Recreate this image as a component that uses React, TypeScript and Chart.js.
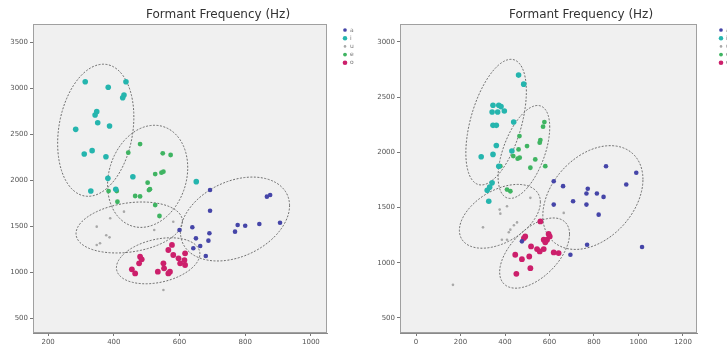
import React, { useEffect, useRef } from "react";
import { Chart, registerables } from "chart.js";

Chart.register(...registerables);

const TITLE = "Formant Frequency (Hz)";
const VOWELS = ["a", "i", "u", "e", "o"];
const COLORS = ["#4545a8", "#25b5ae", "#a8a8a8", "#3fb462", "#cc1f6b"];
const RADII = [2.3, 2.8, 1.3, 2.4, 2.9];

// ---- Left panel data (F1 on x, F2 on y) ----
const L_A: number[][] = [[693,1891],[693,1666],[639,1486],[600,1457],[691,1421],[688,1341],[650,1366],[663,1283],[642,1258],[680,1174],[769,1439],[777,1511],[800,1503],[843,1522],[866,1819],[876,1837],[906,1536]];
const L_I: number[][] = [[313,3069],[383,3008],[437,3069],[431,2924],[427,2895],[348,2743],[343,2707],[351,2623],[387,2587],[284,2551],[310,2283],[334,2319],[376,2253],[382,2018],[330,1880],[458,2036],[406,1899],[651,1982]];
const L_U: number[][] = [[431,1656],[389,1584],[348,1493],[377,1399],[387,1377],[348,1294],[358,1312],[523,1457],[581,1547],[551,804]];
const L_E: number[][] = [[480,2391],[444,2297],[549,2290],[573,2272],[526,2065],[551,2091],[545,2080],[503,1971],[507,1891],[510,1900],[465,1826],[480,1822],[384,1880],[409,1880],[411,1764],[526,1728],[539,1609]];
const L_O: number[][] = [[577,1294],[566,1239],[581,1185],[597,1149],[602,1094],[617,1203],[615,1130],[617,1076],[480,1167],[485,1138],[477,1094],[455,1029],[465,985],[534,1004],[551,1094],[553,1040],[571,1004],[566,985]];

// ---- Right panel data ----
const R_A: number[][] = [[619,1739],[661,1694],[619,1527],[706,1557],[772,1670],[766,1627],[766,1527],[813,1627],[843,1597],[821,1436],[854,1875],[945,1709],[990,1815],[769,1164],[694,1073],[1016,1143],[476,1194]];
const R_I: number[][] = [[461,2700],[484,2618],[346,2427],[372,2427],[382,2415],[342,2366],[367,2366],[397,2375],[346,2245],[361,2245],[439,2275],[361,2063],[293,1961],[346,1982],[372,1875],[431,2012],[342,1724],[331,1685],[320,1657],[327,1557]];
const R_U: number[][] = [[376,1482],[379,1445],[409,1512],[301,1321],[424,1300],[417,1276],[409,1209],[386,1209],[166,800],[664,1452],[454,1366],[440,1340],[514,1588]];
const R_E: number[][] = [[577,2275],[571,2233],[559,2112],[556,2088],[499,2057],[461,2027],[466,1952],[457,1943],[536,1936],[514,1861],[581,1875],[437,1967],[465,2148],[409,1663],[424,1648],[379,1875]];
const R_O: number[][] = [[559,1375],[491,1239],[485,1224],[596,1261],[601,1239],[589,1209],[574,1209],[581,1185],[574,1124],[517,1148],[544,1124],[556,1103],[619,1094],[641,1088],[446,1073],[476,1033],[509,1057],[514,951],[451,900]];

// Ellipses: centre (cx, cy), half extents (sx, sy) and correlation r, in data units, order a,i,u,e,o
const L_ELLIPSES = [
  { cx: 769, cy: 1576, sx: 166, sy: 456, r: 0.32 },
  { cx: 345, cy: 2541, sx: 116, sy: 718, r: 0.2 },
  { cx: 447, cy: 1484, sx: 162, sy: 277, r: 0.24 },
  { cx: 503, cy: 2040, sx: 122, sy: 555, r: 0.17 },
  { cx: 535, cy: 1122, sx: 127, sy: 250, r: 0.3 },
];
const R_ELLIPSES = [
  { cx: 795, cy: 1591, sx: 225, sy: 470, r: 0.35 },
  { cx: 360, cy: 2274, sx: 136, sy: 569, r: 0.49 },
  { cx: 377, cy: 1421, sx: 182, sy: 289, r: 0.44 },
  { cx: 485, cy: 2004, sx: 116, sy: 421, r: 0.53 },
  { cx: 533, cy: 1088, sx: 157, sy: 318, r: 0.54 },
];

const L_X_TICKS = [200, 400, 600, 800, 1000];
const L_Y_TICKS = [500, 1000, 1500, 2000, 2500, 3000, 3500];
const R_X_TICKS = [0, 200, 400, 600, 800, 1000, 1200];
const R_Y_TICKS = [500, 1000, 1500, 2000, 2500, 3000];

type Ell = { cx: number; cy: number; sx: number; sy: number; r: number };

function Panel(props: {
  series: number[][][];
  ellipses: Ell[];
  xRange: number[];
  yRange: number[];
  xTicks: number[];
  yTicks: number[];
  width: number;
  padRight: number;
  titleX: number;
  legendX: number;
}) {
  const ref = useRef<HTMLCanvasElement | null>(null);
  useEffect(() => {
    const canvas = ref.current;
    if (!canvas) return;
    const { series, ellipses, xRange, yRange, xTicks, yTicks, padRight, titleX, legendX } = props;
    const plugin = {
      id: "panelDecor",
      beforeDraw(chart: any) {
        const { ctx, chartArea: a } = chart;
        ctx.save();
        ctx.fillStyle = "#ffffff";
        ctx.fillRect(0, 0, chart.width, chart.height);
        ctx.fillStyle = "#f0f0f0";
        ctx.fillRect(a.left, a.top, a.right - a.left, a.bottom - a.top);
        ctx.restore();
      },
      beforeDatasetsDraw(chart: any) {
        const { ctx, chartArea: a, scales } = chart;
        ctx.save();
        ctx.beginPath();
        ctx.rect(a.left, a.top, a.right - a.left, a.bottom - a.top);
        ctx.clip();
        ctx.strokeStyle = "#6e6e6e";
        ctx.lineWidth = 1;
        ctx.setLineDash([2, 1.5]);
        for (const e of ellipses) {
          const k = Math.sqrt(1 - e.r * e.r);
          ctx.beginPath();
          for (let i = 0; i <= 180; i++) {
            const t = (i / 180) * Math.PI * 2;
            const xv = e.cx + e.sx * Math.cos(t);
            const yv = e.cy + e.sy * (e.r * Math.cos(t) + k * Math.sin(t));
            const px = scales.x.getPixelForValue(xv);
            const py = scales.y.getPixelForValue(yv);
            if (i === 0) ctx.moveTo(px, py);
            else ctx.lineTo(px, py);
          }
          ctx.closePath();
          ctx.stroke();
        }
        ctx.restore();
      },
      afterDraw(chart: any) {
        const { ctx, chartArea: a } = chart;
        ctx.save();
        ctx.strokeStyle = "#a0a0a0";
        ctx.lineWidth = 1;
        ctx.strokeRect(a.left + 0.5, a.top + 0.5, a.right - a.left - 1, a.bottom - a.top - 1);
        ctx.fillStyle = "#333333";
        ctx.font = "12px 'DejaVu Sans'";
        ctx.textAlign = "center";
        ctx.textBaseline = "middle";
        ctx.fillText(TITLE, titleX, 15);
        for (let i = 0; i < VOWELS.length; i++) {
          const y = 30 + i * 8.2;
          ctx.beginPath();
          ctx.fillStyle = COLORS[i];
          ctx.arc(legendX, y, Math.max(RADII[i] * 0.8, 1.3), 0, Math.PI * 2);
          ctx.fill();
          ctx.fillStyle = "#777777";
          ctx.font = "6px 'DejaVu Sans'";
          ctx.textAlign = "left";
          ctx.fillText(VOWELS[i], legendX + 5, y);
        }
        ctx.restore();
      },
    };
    const tickFont = { size: 7, family: "'DejaVu Sans'" };
    const chart = new Chart(canvas, {
      type: "scatter",
      data: {
        datasets: series.map((pts, i) => ({
          label: VOWELS[i],
          data: pts.map((p) => ({ x: p[0], y: p[1] })),
          backgroundColor: COLORS[i],
          borderColor: COLORS[i],
          borderWidth: 0,
          pointRadius: RADII[i],
          pointHoverRadius: RADII[i],
        })),
      },
      options: {
        animation: false,
        responsive: false,
        maintainAspectRatio: false,
        events: [],
        layout: { padding: { left: 0, top: 24, right: padRight, bottom: 0 } },
        plugins: { legend: { display: false }, tooltip: { enabled: false }, title: { display: false } },
        scales: {
          x: {
            type: "linear",
            min: xRange[0],
            max: xRange[1],
            afterBuildTicks: (axis: any) => {
              axis.ticks = xTicks.map((v) => ({ value: v }));
            },
            afterFit: (axis: any) => {
              axis.height = 16;
            },
            grid: { display: true, drawOnChartArea: false, drawTicks: true, tickLength: 3, color: "#777777" },
            border: { display: true, color: "#8a8a8a" },
            ticks: {
              font: tickFont,
              color: "#555555",
              padding: 2,
              maxRotation: 0,
              autoSkip: false,
              callback: (v: any) => String(v),
            },
          },
          y: {
            type: "linear",
            min: yRange[0],
            max: yRange[1],
            afterBuildTicks: (axis: any) => {
              axis.ticks = yTicks.map((v) => ({ value: v }));
            },
            afterFit: (axis: any) => {
              axis.width = 33;
            },
            grid: { display: true, drawOnChartArea: false, drawTicks: true, tickLength: 3, color: "#777777" },
            border: { display: true, color: "#8a8a8a" },
            ticks: {
              font: tickFont,
              color: "#555555",
              padding: 2,
              autoSkip: false,
              callback: (v: any) => String(v),
            },
          },
        },
      },
      plugins: [plugin],
    } as any);
    return () => chart.destroy();
  }, []);
  return (
    <canvas
      ref={ref}
      width={props.width}
      height={349}
      style={{ width: props.width + "px", height: "349px", display: "block" }}
    />
  );
}

export default function App() {
  return (
    <div
      style={{
        position: "absolute",
        left: 0,
        top: 0,
        width: 727,
        height: 349,
        overflow: "hidden",
        background: "#ffffff",
      }}
    >
      <div style={{ position: "absolute", left: 0, top: 0 }}>
        <Panel
          series={[L_A, L_I, L_U, L_E, L_O]}
          ellipses={L_ELLIPSES}
          xRange={[154, 1049]}
          yRange={[337, 3696]}
          xTicks={L_X_TICKS}
          yTicks={L_Y_TICKS}
          width={367}
          padRight={40}
          titleX={218}
          legendX={345}
        />
      </div>
      <div style={{ position: "absolute", left: 367, top: 0 }}>
        <Panel
          series={[R_A, R_I, R_U, R_E, R_O]}
          ellipses={R_ELLIPSES}
          xRange={[-72, 1263]}
          yRange={[364, 3163]}
          xTicks={R_X_TICKS}
          yTicks={R_Y_TICKS}
          width={380}
          padRight={50}
          titleX={214}
          legendX={354}
        />
      </div>
    </div>
  );
}
